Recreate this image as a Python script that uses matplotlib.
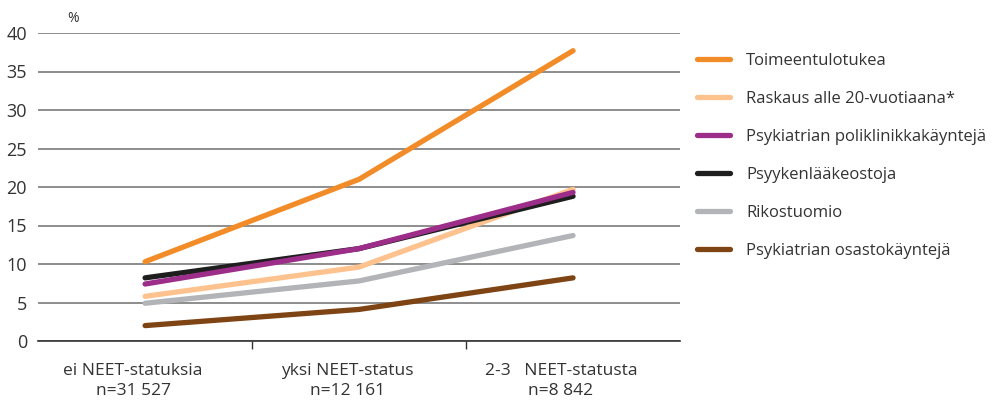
import matplotlib
matplotlib.use('Agg')
import matplotlib.pyplot as plt
from matplotlib.transforms import ScaledTranslation

plt.rcParams['font.family'] = ['Open Sans', 'DejaVu Sans']

categories = ["ei NEET-statuksia\nn=31 527", "yksi NEET-status\nn=12 161", "2-3   NEET-statusta\nn=8 842"]
series_names = ["Toimeentulotukea", "Raskaus alle 20-vuotiaana*", "Psykiatrian poliklinikkakäyntejä",
                "Psyykenlääkeostoja", "Rikostuomio", "Psykiatrian osastokäyntejä"]
toimeentulotuki = [10.3, 21.0, 37.7]
raskaus = [5.8, 9.6, 19.7]
poliklinikka = [7.4, 12.0, 19.3]
laakeostot = [8.2, 12.0, 18.8]
rikostuomio = [4.9, 7.8, 13.7]
osasto = [2.0, 4.1, 8.2]
colors = ["#F28C28", "#FDC28E", "#9C2E8A", "#1E1E1E", "#B2B4B7", "#7E4414"]

values = [toimeentulotuki, raskaus, poliklinikka, laakeostot, rikostuomio, osasto]
# draw order: back to front like the reference
order = [4, 5, 1, 3, 2, 0]

fig = plt.figure(figsize=(10.03, 4.0), dpi=100)
ax = fig.add_axes([0.038, 0.1475, 0.640, 0.77])

x = list(range(len(categories)))
lines = {}
for i in order:
    ln, = ax.plot(x, values[i], color=colors[i], lw=3.8, solid_capstyle='round', zorder=3)
    lines[i] = ln

ax.set_xlim(-0.5, 2.5)
ax.set_ylim(0, 40)
ax.set_yticks(range(0, 41, 5))
ax.yaxis.grid(True, color='#7a7a7a', lw=1.2)
ax.set_axisbelow(True)
for s in ['top', 'right', 'left']:
    ax.spines[s].set_visible(False)
ax.spines['bottom'].set_color('#333333')
ax.spines['bottom'].set_linewidth(1.2)
ax.tick_params(axis='y', length=0, pad=8, labelsize=13, labelcolor='#333333')

ax.set_xticks(x)
ax.set_xticklabels(categories, fontsize=12.5, color='#333333', linespacing=1.3)
ax.tick_params(axis='x', length=0, pad=16)
# labels sit a bit left of the category centres in the original
shift = ScaledTranslation(-0.12, 0, fig.dpi_scale_trans)
for lbl in ax.get_xticklabels():
    lbl.set_transform(lbl.get_transform() + shift)
ax.set_xticks([0.5, 1.5], minor=True)
ax.tick_params(axis='x', which='minor', length=6, color='#333333', width=1)

ax.text(0.045, 1.035, '%', transform=ax.transAxes, fontsize=10, color='#333333')

handles = [lines[i] for i in range(len(series_names))]
fig.legend(handles, series_names, loc='upper left', bbox_to_anchor=(0.695, 0.8675),
           frameon=False, fontsize=12, labelspacing=1.32, handlelength=2.0,
           handletextpad=0.95, borderpad=0, borderaxespad=0, labelcolor='#333333')

fig.savefig('out.png', dpi=100)
